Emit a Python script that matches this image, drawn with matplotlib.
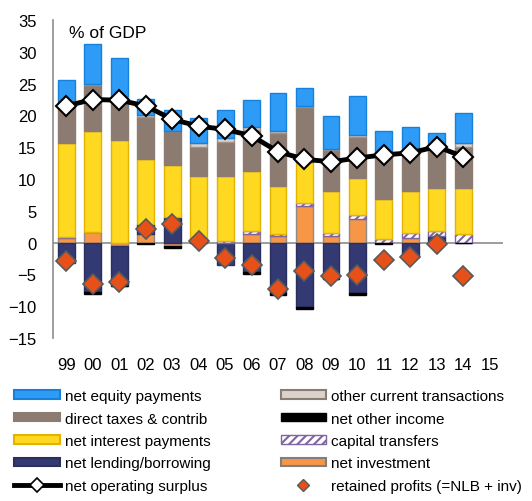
import numpy as np
import matplotlib.pyplot as plt
from matplotlib.patches import Patch
from matplotlib.lines import Line2D

plt.rcParams['font.family'] = ['Liberation Sans', 'DejaVu Sans']
plt.rcParams['hatch.linewidth'] = 1.5

years = ['99', '00', '01', '02', '03', '04', '05', '06', '07', '08',
         '09', '10', '11', '12', '13', '14', '15']

# stack components, % of GDP (15 has no data)
net_investment = [0.7, 1.6, -0.5, 1.3, -0.5, 0.0, 0.0, 1.4, 1.0, 5.8,
                  1.0, 3.7, 0.0, 0.7, 0.0, 0.0, np.nan]
net_lending = [-3.3, -7.8, -6.3, 1.6, 4.0, 0.3, -3.6, -4.7, -8.0, -10.1,
               -5.7, -8.0, 0.0, -2.3, 1.0, 0.0, np.nan]
capital_transfers = [0.1, 0.1, 0.0, 0.0, 0.0, 0.0, 0.2, 0.4, 0.4, 0.4,
                     0.5, 0.7, 0.5, 0.8, 0.8, 1.4, np.nan]
net_interest = [14.8, 15.9, 16.1, 10.3, 8.2, 10.2, 10.3, 9.4, 7.5, 6.5,
                6.6, 5.7, 6.3, 6.6, 6.8, 7.2, np.nan]
net_other_income = [0.0, -0.3, -0.1, -0.2, -0.3, 0.0, 0.0, -0.2, -0.2, -0.3,
                    -0.1, -0.3, -0.2, 0.0, -0.2, -0.1, np.nan]
direct_taxes = [6.4, 7.2, 6.8, 6.6, 5.3, 4.6, 5.3, 6.5, 8.3, 8.7,
                6.4, 6.5, 7.0, 6.5, 6.2, 6.5, np.nan]
other_current = [0.1, 0.2, 0.1, 0.3, 0.1, 0.6, 0.6, 0.4, 0.3, 0.1,
                 0.2, 0.3, 0.1, 0.1, 0.1, 0.5, np.nan]
net_equity = [3.5, 6.3, 6.1, 2.5, 3.3, 3.9, 4.5, 4.4, 6.1, 2.8,
              5.2, 6.1, 3.6, 3.4, 2.3, 4.8, np.nan]

net_operating_surplus = [21.5, 22.5, 22.4, 21.5, 19.4, 18.3, 17.8, 16.8, 14.3, 13.1,
                         12.7, 13.3, 13.8, 14.1, 15.1, 13.5, np.nan]
retained_profits = [-2.9, -6.6, -6.2, 2.2, 2.9, 0.3, -2.5, -3.6, -7.3, -4.5,
                    -5.2, -5.1, -2.8, -2.2, -0.3, -5.2, np.nan]

# (label, values, face, edge, hatch) in stacking order
series = [
    ('net investment', net_investment, '#F79646', '#8E8A88', None),
    ('net lending/borrowing', net_lending, '#333A73', '#2A2F5C', None),
    ('capital transfers', capital_transfers, 'white', '#8064A2', '////'),
    ('net interest payments', net_interest, '#FFD822', '#E0B400', None),
    ('net other income', net_other_income, 'black', 'black', None),
    ('direct taxes & contrib', direct_taxes, '#8C7B70', '#8C7B70', None),
    ('other current transactions', other_current, '#D9D2CE', '#A39187', None),
    ('net equity payments', net_equity, '#2E9CF6', '#1780DB', None),
]

fig = plt.figure(figsize=(5.32, 5.02), dpi=100)
ax = fig.add_axes([0.0996, 0.325, 0.846, 0.633])

x = np.arange(len(years))
pos = np.zeros(len(years))
neg = np.zeros(len(years))
handles = {}
for label, vals, fc, ec, hatch in series:
    v = np.nan_to_num(np.array(vals, dtype=float))
    bottom = np.where(v >= 0, pos, neg)
    nz = v != 0
    ax.bar(x[nz], v[nz], 0.64, bottom=bottom[nz], color=fc, edgecolor=ec,
           linewidth=1, hatch=hatch, zorder=2)
    pos = pos + np.where(v >= 0, v, 0)
    neg = neg + np.where(v < 0, v, 0)
    handles[label] = Patch(facecolor=fc, edgecolor=ec if hatch is None else '#8064A2',
                           hatch=hatch, linewidth=1.5 if fc != 'white' else 1.0)
handles['net other income'] = Patch(facecolor='black', edgecolor='black')
handles['other current transactions'] = Patch(facecolor='#D9D2CE', edgecolor='#8C7B70', linewidth=1.5)
handles['net investment'] = Patch(facecolor='#F79646', edgecolor='#7F7F7F', linewidth=1.5)

ax.axhline(0, color='#8C8C8C', lw=1.2, zorder=1)

ax.plot(x, net_operating_surplus, color='black', lw=3.5, marker='D', ms=10,
        mfc='white', mec='black', mew=1.5, zorder=4)
ax.plot(x, retained_profits, ls='none', marker='D', ms=10, mfc='#E8501A',
        mec='#5A5A5A', mew=1.2, zorder=5)

ax.set_xlim(-0.5, 16.5)
ax.set_ylim(-15, 35)
ax.set_yticks(range(-15, 36, 5))
ax.set_xticks(x)
ax.set_xticklabels(years)
ax.tick_params(axis='both', length=0, labelsize=12)
ax.tick_params(axis='x', pad=14)
ax.tick_params(axis='y', pad=12)
for s in ['top', 'right', 'bottom']:
    ax.spines[s].set_visible(False)
ax.spines['left'].set_color('#8C8C8C')
ax.spines['left'].set_linewidth(1.2)

ax.text(0.035, 0.985, '% of GDP', transform=ax.transAxes, fontsize=12.5,
        va='top', ha='left')

surplus_h = Line2D([], [], color='black', lw=3.5, marker='D', ms=7,
                   mfc='white', mec='black', mew=1.2)
retained_h = Line2D([], [], ls='none', marker='D', ms=6, mfc='#E8501A', mec='#5A5A5A')
order = ['net equity payments', 'direct taxes & contrib', 'net interest payments',
         'net lending/borrowing', 'net operating surplus',
         'other current transactions', 'net other income', 'capital transfers',
         'net investment', 'retained profits (=NLB + inv)']
handles['net operating surplus'] = surplus_h
handles['retained profits (=NLB + inv)'] = retained_h
fig.legend([handles[k] for k in order], order, ncol=2, loc='upper left',
           bbox_to_anchor=(0.015, 0.235), frameon=False, fontsize=11,
           handlelength=3.0, handleheight=0.5, handletextpad=0.3,
           columnspacing=4.6, labelspacing=0.55, borderaxespad=0)

fig.savefig('out.png', dpi=100)
